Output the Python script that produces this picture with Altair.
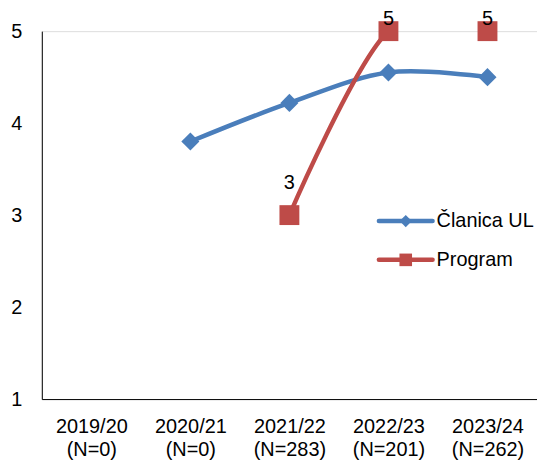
import altair as alt
import pandas as pd

years = ["2019/20 (N=0)", "2020/21 (N=0)", "2021/22 (N=283)", "2022/23 (N=201)", "2023/24 (N=262)"]
clanica = [None, 3.8, 4.22, 4.55, 4.5]
program = [None, None, 3, 5, 5]
series_names = ["Članica UL", "Program"]
colors = ["#4A7EBB", "#BE4B48"]

rows = []
for name, vals in zip(series_names, [clanica, program]):
    for y, v in zip(years, vals):
        if v is not None:
            rows.append({"year": y, "value": v, "series": name})
df = pd.DataFrame(rows)
df_c = df[df.series == "Članica UL"]
df_p = df[df.series == "Program"]

FONT = "Liberation Sans"
FS = 20

xenc = alt.X("year:N", scale=alt.Scale(domain=years, type="point", padding=0.5),
             axis=alt.Axis(title=None, labelAngle=0, ticks=False, labelPadding=18,
                           labelExpr="split(datum.value, ' ')", labelLineHeight=23,
                           domainColor="black", labelFont=FONT, labelFontSize=FS,
                           labelColor="black", grid=False))
yenc = alt.Y("value:Q", scale=alt.Scale(domain=[1, 5], nice=False, zero=False),
             axis=alt.Axis(title=None, values=[1, 2, 3, 4, 5], ticks=False, labelPadding=20,
                           domainColor="black", labelFont=FONT, labelFontSize=FS,
                           labelColor="black", grid=False))

blue_line = alt.Chart(df_c).mark_line(interpolate="cardinal", strokeWidth=4.5, color=colors[0], clip=True).encode(x=xenc, y=yenc)
blue_pts = alt.Chart(df_c).mark_point(shape="diamond", filled=True, size=330, color=colors[0], opacity=1).encode(x=xenc, y=yenc)
red_line = alt.Chart(df_p).mark_line(interpolate="cardinal", strokeWidth=4.5, color=colors[1], clip=True).encode(x=xenc, y=yenc)
red_pts = alt.Chart(df_p).mark_point(shape="square", filled=True, size=400, color=colors[1], opacity=1).encode(x=xenc, y=yenc)
red_lbl_lo = alt.Chart(df_p).transform_filter("datum.value < 5").mark_text(dy=-32, font=FONT, fontSize=FS, color="black").encode(
    x=xenc, y=yenc, text=alt.Text("value:Q", format="d"))
red_lbl_hi = alt.Chart(df_p).transform_filter("datum.value >= 5").mark_text(dy=-12, font=FONT, fontSize=FS, color="black").encode(
    x=xenc, y=yenc, text=alt.Text("value:Q", format="d"))

# manual legend
leg = []
for i, (name, col, shape, sz) in enumerate(zip(series_names, colors, ["diamond", "square"], [150, 160])):
    yy = 191 + i * 39
    d = pd.DataFrame({"label": [name]})
    leg.append(alt.Chart(d).mark_rule(color=col, strokeWidth=4.5, strokeCap="round").encode(
        x=alt.value(339), x2=alt.value(393), y=alt.value(yy)))
    leg.append(alt.Chart(d).mark_point(shape=shape, filled=True, size=sz, color=col, opacity=1).encode(
        x=alt.value(366), y=alt.value(yy)))
    leg.append(alt.Chart(d).mark_text(align="left", baseline="middle", font=FONT, fontSize=FS, color="black").encode(
        x=alt.value(397), y=alt.value(yy), text="label:N"))

chart = alt.layer(blue_line, red_line, blue_pts, red_pts, red_lbl_lo, red_lbl_hi, *leg).properties(
    width=498, height=370,
    autosize=alt.AutoSizeParams(type="none"),
    padding={"left": 34, "top": 22, "right": 0, "bottom": 61},
).configure_view(stroke=None).configure(background="white")

chart.save("out.html", embed_options={"renderer": "svg", "actions": False})
